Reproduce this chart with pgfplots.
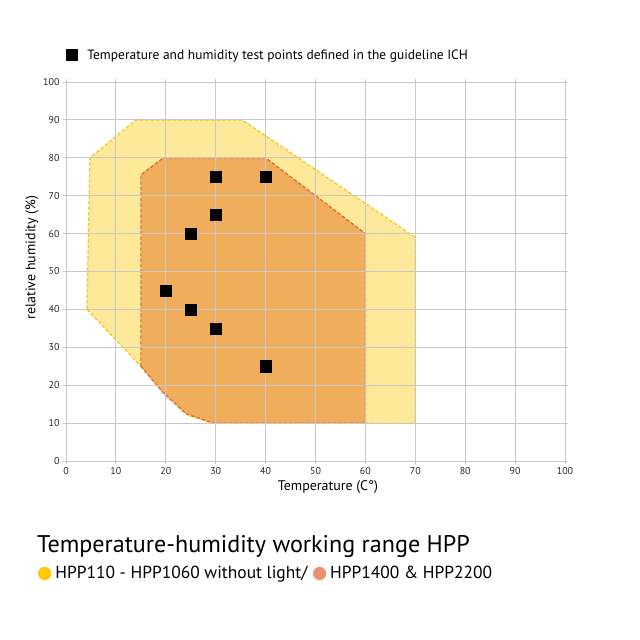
\documentclass[border=0pt]{standalone}
\usepackage{pgfplots}
\pgfplotsset{compat=1.18}
\usepackage{fontspec}
\setmainfont{PT Sans}
\newfontfamily\symfont{DejaVu Sans}
\definecolor{yfill}{HTML}{FEE89A}
\definecolor{yline}{HTML}{F6C619}
\definecolor{ofill}{HTML}{F0AD5B}
\definecolor{oline}{HTML}{E2642B}
\definecolor{gridc}{HTML}{C8C8C8}
\definecolor{ydot}{HTML}{FFC800}
\definecolor{odot}{HTML}{EE9070}
\begin{document}
\begin{tikzpicture}
\path[use as bounding box] (0,0) rectangle (640bp,-640bp);
\begin{axis}[
  at={(66bp,-461bp)}, anchor=south west,
  width=499bp, height=379bp, scale only axis,
  xmin=0, xmax=100, ymin=0, ymax=100,
  xtick={0,10,...,100}, ytick={0,10,...,100},
  grid=major,
  grid style={draw=gridc, line width=0.9bp},
  axis line style={draw=gridc, line width=0.9bp},
  tick style={draw=gridc, line width=0.9bp},
  tick align=outside, major tick length=3bp,
  axis on top,
  tick label style={font=\fontsize{10}{10}\selectfont, text=black!85},
  /pgf/number format/assume math mode=true,
  xlabel={Temperature (C°)},
  ylabel={relative humidity (\%)},
  label style={font=\fontsize{14}{15}\selectfont},
  xlabel style={at={(ticklabel cs:0.525)}, yshift=1bp},
  ylabel style={at={(ticklabel cs:0.537)}, yshift=-2bp},
  legend style={at={(0,1.071)}, anchor=west, draw=none, fill=none,
    font=\fontsize{13.5}{15}\selectfont, inner xsep=0bp},
  legend cell align=left,
]
\addplot[fill=yfill, draw=yline, line width=1.2bp, dash pattern=on 3.5bp off 2bp, forget plot]
  coordinates {(4.2,40) (15,25) (19.5,18) (24.5,12) (29.5,10) (70,10) (70,59) (35.3,90) (14,90) (4.8,80)} -- cycle;
\addplot[fill=ofill, draw=oline, line width=1.2bp, dash pattern=on 3.5bp off 2bp, forget plot]
  coordinates {(15,25) (15,75.5) (19.5,80) (40,80) (60,60) (60,10) (29.5,10) (24,12.5) (19.5,18)} -- cycle;
\addplot[only marks, mark=square*, mark size=5.6bp, mark options={fill=black, draw=black}]
  coordinates {(30,75) (40,75) (30,65) (25,60) (20,45) (25,40) (30,35) (40,25)};
\addlegendentry{\hspace{8bp}Temperature and humidity test points defined in the guideline ICH}
\end{axis}
\node[anchor=base west, inner sep=0] at (37bp,-552bp) {\fontsize{24.2}{26}\selectfont Temperature-humidity working range HPP};
\node[anchor=base west, inner sep=0] at (37bp,-578bp) {\fontsize{17.5}{19}\selectfont {\symfont\color{ydot}●}\,HPP110 - HPP1060 without light/ {\symfont\color{odot}●}\,HPP1400 \& HPP2200};
\end{tikzpicture}
\end{document}
